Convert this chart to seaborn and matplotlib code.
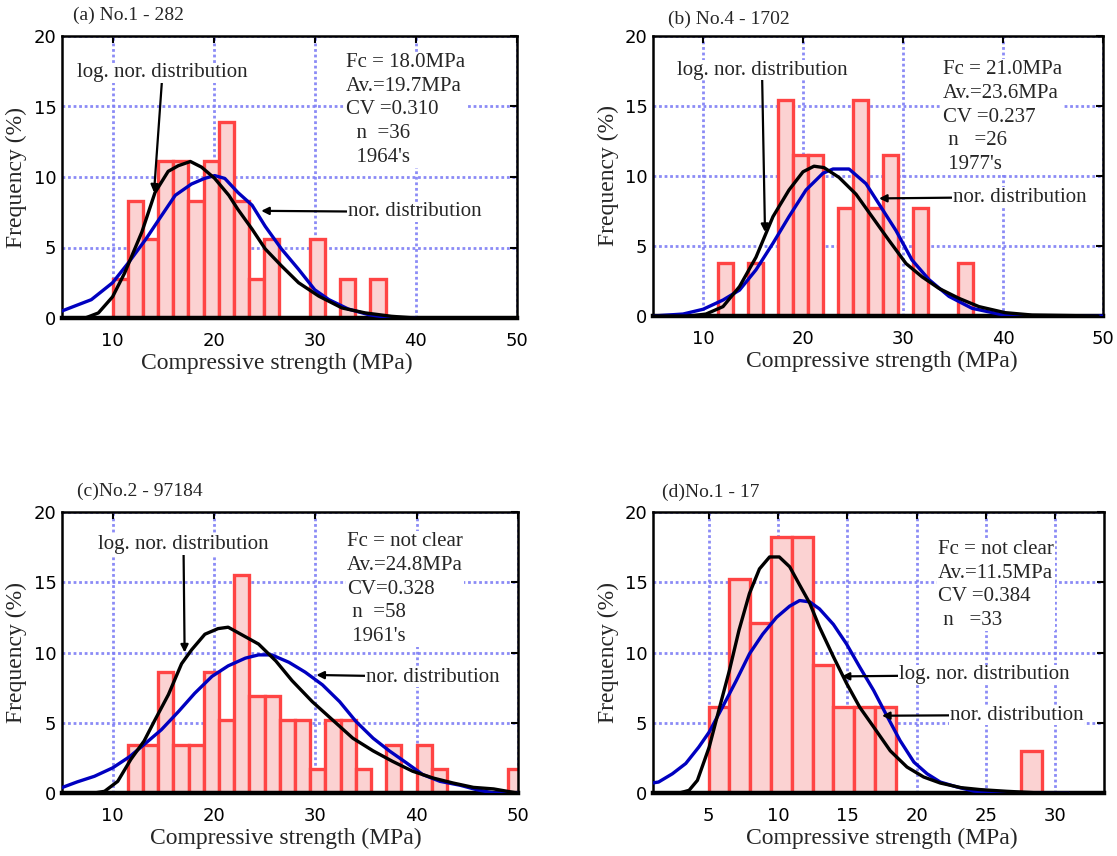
import numpy as np
import pandas as pd
import matplotlib
matplotlib.use("Agg")
import matplotlib.pyplot as plt
import seaborn as sns

# ---------------- data ----------------
BIN_W = 1.5

# (a) No.1 - 282
a_first_edge = 10.0
a_freq = [2.8, 8.3, 5.6, 11.1, 11.1, 8.3, 11.1, 13.9, 8.3, 2.8, 5.6, 0, 0, 5.6, 0, 2.8, 0, 2.8, 0, 0, 0, 0, 0]
a_nor_x = [5.0, 7.9, 10.0, 11.55, 13.3, 14.6, 16.2, 17.8, 19.1, 20.1, 21.1, 22.4, 23.8, 25.1, 26.7, 28.4, 30.0, 31.4, 33.3, 35.3, 37.6, 40.0]
a_nor_y = [0.5, 1.3, 2.5, 3.9, 5.6, 7.0, 8.7, 9.5, 9.9, 10.1, 9.9, 8.9, 8.0, 6.5, 4.9, 3.45, 2.0, 1.3, 0.64, 0.24, 0.0, 0.0]
a_log_x = [5.0, 7.3, 8.6, 10.0, 11.2, 12.9, 14.2, 15.5, 16.5, 17.7, 18.8, 20.1, 21.5, 22.4, 23.8, 25.1, 26.7, 28.4, 30.4, 32.7, 35.0, 37.6, 39.9, 45.0]
a_log_y = [0.0, 0.0, 0.36, 1.5, 3.2, 6.1, 8.9, 10.4, 10.8, 11.1, 10.7, 9.9, 8.7, 7.7, 6.3, 4.9, 3.7, 2.5, 1.55, 0.71, 0.36, 0.12, 0.0, 0.0]

# (b) No.4 - 1702
b_first_edge = 10.0
b_freq = [0, 3.8, 0, 3.8, 0, 15.4, 11.5, 11.5, 0, 7.7, 15.4, 7.7, 11.5, 0, 7.7, 0, 0, 3.8, 0, 0, 0, 0, 0, 0, 0, 0, 0]
b_nor_x = [5.0, 8.0, 10.0, 12.0, 13.65, 15.3, 17.0, 18.6, 20.3, 22.0, 23.0, 24.6, 26.3, 27.6, 29.3, 30.9, 32.6, 34.6, 36.9, 39.6, 41.2, 50.0]
b_nor_y = [0.0, 0.14, 0.48, 1.14, 1.85, 3.3, 5.2, 7.1, 9.0, 10.2, 10.5, 10.5, 9.45, 8.0, 6.1, 4.0, 2.6, 1.4, 0.55, 0.14, 0.0, 0.0]
b_log_x = [5.0, 8.7, 10.3, 12.0, 13.65, 15.3, 17.0, 18.6, 20.0, 21.1, 22.1, 23.6, 25.3, 26.9, 28.6, 30.3, 31.9, 33.6, 35.6, 37.6, 40.2, 42.9, 49.5]
b_log_y = [0.0, 0.0, 0.14, 0.67, 2.1, 4.2, 7.1, 9.0, 10.3, 10.7, 10.6, 9.9, 8.7, 7.1, 5.4, 3.75, 2.8, 1.97, 1.26, 0.67, 0.24, 0.07, 0.0]

# (c) No.2 - 97184
c_first_edge = 10.0
c_freq = [0, 3.4, 3.4, 8.6, 3.4, 3.4, 8.6, 5.2, 15.5, 6.9, 6.9, 5.2, 5.2, 1.7, 5.2, 5.2, 1.7, 0, 3.4, 0, 3.4, 1.7, 0, 0, 0, 0, 1.7]
c_nor_x = [4.9, 6.5, 8.2, 10.0, 11.7, 13.1, 14.8, 16.5, 18.1, 19.8, 21.4, 23.1, 24.4, 25.7, 27.4, 29.0, 30.7, 32.4, 34.0, 35.7, 37.3, 39.0, 40.6, 42.3, 44.3, 45.9, 47.6, 49.9]
c_nor_y = [0.36, 0.79, 1.19, 1.79, 2.6, 3.45, 4.5, 5.8, 7.1, 8.3, 9.05, 9.6, 9.83, 9.83, 9.3, 8.6, 7.7, 6.5, 5.1, 3.9, 3.0, 2.14, 1.31, 0.83, 0.55, 0.24, 0.0, 0.0]
c_log_x = [4.9, 8.2, 9.2, 10.5, 11.8, 13.1, 14.1, 15.5, 16.8, 17.8, 19.1, 20.4, 21.4, 22.4, 24.4, 26.1, 27.7, 29.7, 31.7, 33.7, 35.7, 37.6, 39.6, 41.6, 43.6, 45.6, 47.6, 49.9]
c_log_y = [0.0, 0.0, 0.12, 0.83, 2.4, 3.7, 5.1, 7.0, 9.2, 10.2, 11.3, 11.7, 11.8, 11.4, 10.6, 9.4, 8.0, 6.5, 5.2, 3.9, 3.0, 2.26, 1.55, 1.07, 0.71, 0.4, 0.29, 0.0]

# (d) No.1 - 17
d_first_edge = 2.0
d_freq = [0, 0, 6.1, 15.2, 12.1, 18.2, 18.2, 9.1, 6.1, 6.1, 6.1, 0, 0, 0, 0, 0, 0, 3.0, 0, 0, 0]
d_nor_x = [0.94, 1.4, 2.4, 3.36, 4.3, 5.05, 6.0, 7.0, 7.95, 8.9, 9.9, 10.85, 11.57, 12.3, 13.0, 14.0, 14.95, 15.9, 16.9, 17.85, 18.8, 19.8, 20.75, 21.7, 22.9, 24.1, 25.6, 30.9]
d_nor_y = [0.71, 0.78, 1.37, 2.1, 3.27, 4.34, 6.1, 8.0, 9.9, 11.3, 12.5, 13.3, 13.7, 13.6, 13.1, 12.0, 10.6, 8.96, 7.3, 5.5, 3.74, 2.2, 1.37, 0.78, 0.43, 0.14, 0.0, 0.0]
d_log_x = [0.94, 2.9, 3.6, 4.2, 5.05, 5.8, 6.5, 7.2, 7.95, 8.67, 9.4, 10.1, 10.85, 11.57, 12.3, 13.0, 14.0, 14.95, 15.9, 16.9, 18.1, 19.3, 20.5, 21.7, 23.2, 24.6, 26.5, 28.5, 30.9]
d_log_y = [0.0, 0.0, 0.19, 0.9, 3.27, 6.1, 8.7, 11.6, 14.2, 15.95, 16.8, 16.8, 16.1, 14.8, 13.5, 11.8, 9.7, 7.8, 6.1, 4.7, 3.0, 1.85, 1.14, 0.71, 0.38, 0.24, 0.12, 0.02, 0.0]

titles = ["(a) No.1 - 282", "(b) No.4 - 1702", "(c)No.2 - 97184", "(d)No.1 - 17"]
stats = [
    "Fc = 18.0MPa\nAv.=19.7MPa\nCV =0.310\n  n  =36\n  1964's",
    "Fc = 21.0MPa\nAv.=23.6MPa\nCV =0.237\n n   =26\n 1977's",
    "Fc = not clear\nAv.=24.8MPa\nCV=0.328\n n  =58\n 1961's",
    "Fc = not clear\nAv.=11.5MPa\nCV =0.384\n n   =33",
]
xticks = [[10, 20, 30, 40, 50], [10, 20, 30, 40, 50], [10, 20, 30, 40, 50], [5, 10, 15, 20, 25, 30]]
yticks = [0, 5, 10, 15, 20]
xlab = "Compressive strength (MPa)"
ylab = "Frequency (%)"
log_lab = "log. nor. distribution"
nor_lab = "nor. distribution"

# ---------------- styling / layout ----------------
W, H = 1117, 856
sns.set_style("white")
plt.rcParams["font.family"] = ["Liberation Serif", "DejaVu Serif"]

fig = plt.figure(figsize=(W / 100, H / 100), dpi=100)

def fx(px):
    return px / W

def fy(py):
    return 1 - py / H

panels = [
    dict(box=(62, 36, 517, 318), xlim=(5, 50), first=a_first_edge, freq=a_freq,
         nx=a_nor_x, ny=a_nor_y, lx=a_log_x, ly=a_log_y,
         title_xy=(73, 15), stats_xy=(346, 110),
         log_text=(162.5, 73), log_head=(14.1, 8.9), log_ha="center",
         nor_text=(348, 212), nor_head=(24.7, 7.6), xlab_x=0.472),
    dict(box=(653, 36, 1103, 316), xlim=(5, 50), first=b_first_edge, freq=b_freq,
         nx=b_nor_x, ny=b_nor_y, lx=b_log_x, ly=b_log_y,
         title_xy=(668, 19), stats_xy=(943, 117),
         log_text=(762, 70), log_head=(16.2, 6.0), log_ha="center",
         nor_text=(953, 197), nor_head=(27.6, 8.4), xlab_x=0.509),
    dict(box=(62, 512, 518, 793), xlim=(5, 50), first=c_first_edge, freq=c_freq,
         nx=c_nor_x, ny=c_nor_y, lx=c_log_x, ly=c_log_y,
         title_xy=(77, 491), stats_xy=(347, 589),
         log_text=(183.5, 545), log_head=(17.1, 10.0), log_ha="center",
         nor_text=(366, 677), nor_head=(30.1, 8.4), xlab_x=0.49),
    dict(box=(653, 512, 1104, 793), xlim=(1, 33.5), first=d_first_edge, freq=d_freq,
         nx=d_nor_x, ny=d_nor_y, lx=d_log_x, ly=d_log_y,
         title_xy=(662, 492), stats_xy=(938, 585),
         log_text=(899, 675), log_head=(14.6, 8.3), log_ha="left",
         nor_text=(950, 715), nor_head=(17.5, 5.5), xlab_x=0.508),
]

BAR_FACE = "#fbd2d2"
BAR_EDGE = "#ff4444"
BLUE = "#0000c0"
GRID = "#7f7ff5"
white_box = dict(facecolor="white", edgecolor="none", pad=0.5)
arrow = dict(arrowstyle="-|>", color="black", lw=1.6, mutation_scale=11, shrinkA=0, shrinkB=0)

for i, p in enumerate(panels):
    l, t, r, b = p["box"]
    ax = fig.add_axes([fx(l), fy(b), (r - l) / W, (b - t) / H])
    freq = [float(v) for v in p["freq"]]
    edges = [p["first"] + BIN_W * k for k in range(len(freq) + 1)]
    centers = [e + BIN_W / 2 for e in edges[:-1]]
    hist_df = pd.DataFrame({"strength": centers, "freq": freq})
    sns.histplot(data=hist_df, x="strength", weights="freq", bins=edges, ax=ax, stat="count",
                 color=BAR_FACE, edgecolor=BAR_EDGE, linewidth=2.4, alpha=1, zorder=2)
    nor_df = pd.DataFrame({"x": p["nx"], "y": p["ny"]})
    log_df = pd.DataFrame({"x": p["lx"], "y": p["ly"]})
    sns.lineplot(data=nor_df, x="x", y="y", ax=ax, color=BLUE, linewidth=2.4,
                 sort=False, estimator=None, zorder=3)
    sns.lineplot(data=log_df, x="x", y="y", ax=ax, color="black", linewidth=2.4,
                 sort=False, estimator=None, zorder=4)

    ax.set_xlim(*p["xlim"])
    ax.set_ylim(0, 20)
    ax.set_xticks(xticks[i])
    ax.set_yticks(yticks)
    ax.grid(True, color=GRID, linestyle=(0, (1.0, 1.0)), linewidth=2.0, alpha=0.9)
    ax.set_axisbelow(True)
    ax.tick_params(axis="both", direction="in", length=5, width=1.5, top=True, right=True,
                   labelsize=13, colors="black")
    ax.tick_params(axis="x", pad=10)
    ax.tick_params(axis="y", pad=4)
    for lbl in ax.get_xticklabels() + ax.get_yticklabels():
        lbl.set_fontfamily("DejaVu Sans")
    for s in ax.spines.values():
        s.set_linewidth(1.8)
        s.set_color("black")
    ax.spines["bottom"].set_linewidth(3.2)

    ax.set_xlabel(xlab, fontsize=17)
    ax.set_ylabel(ylab, fontsize=17)
    ax.xaxis.set_label_coords(p["xlab_x"], -0.125)
    ax.yaxis.set_label_coords(-0.076, 0.5)

    tx, ty = p["title_xy"]
    fig.text(fx(tx), fy(ty), titles[i], fontsize=14, ha="left", va="center")
    sx, sy = p["stats_xy"]
    fig.text(fx(sx), fy(sy), stats[i], fontsize=15, ha="left", va="center",
             linespacing=1.35, bbox=white_box, zorder=5)

    lx_, ly_ = p["log_text"]
    ax.annotate(log_lab, xy=p["log_head"], xycoords="data",
                xytext=(fx(lx_), fy(ly_)), textcoords="figure fraction",
                ha=p["log_ha"], va="center", fontsize=15, bbox=white_box,
                arrowprops=arrow, zorder=6)
    nx_, ny_ = p["nor_text"]
    ax.annotate(nor_lab, xy=p["nor_head"], xycoords="data",
                xytext=(fx(nx_), fy(ny_)), textcoords="figure fraction",
                ha="left", va="center", fontsize=15, bbox=white_box,
                arrowprops=arrow, zorder=6)

fig.savefig("out.png", dpi=100)
